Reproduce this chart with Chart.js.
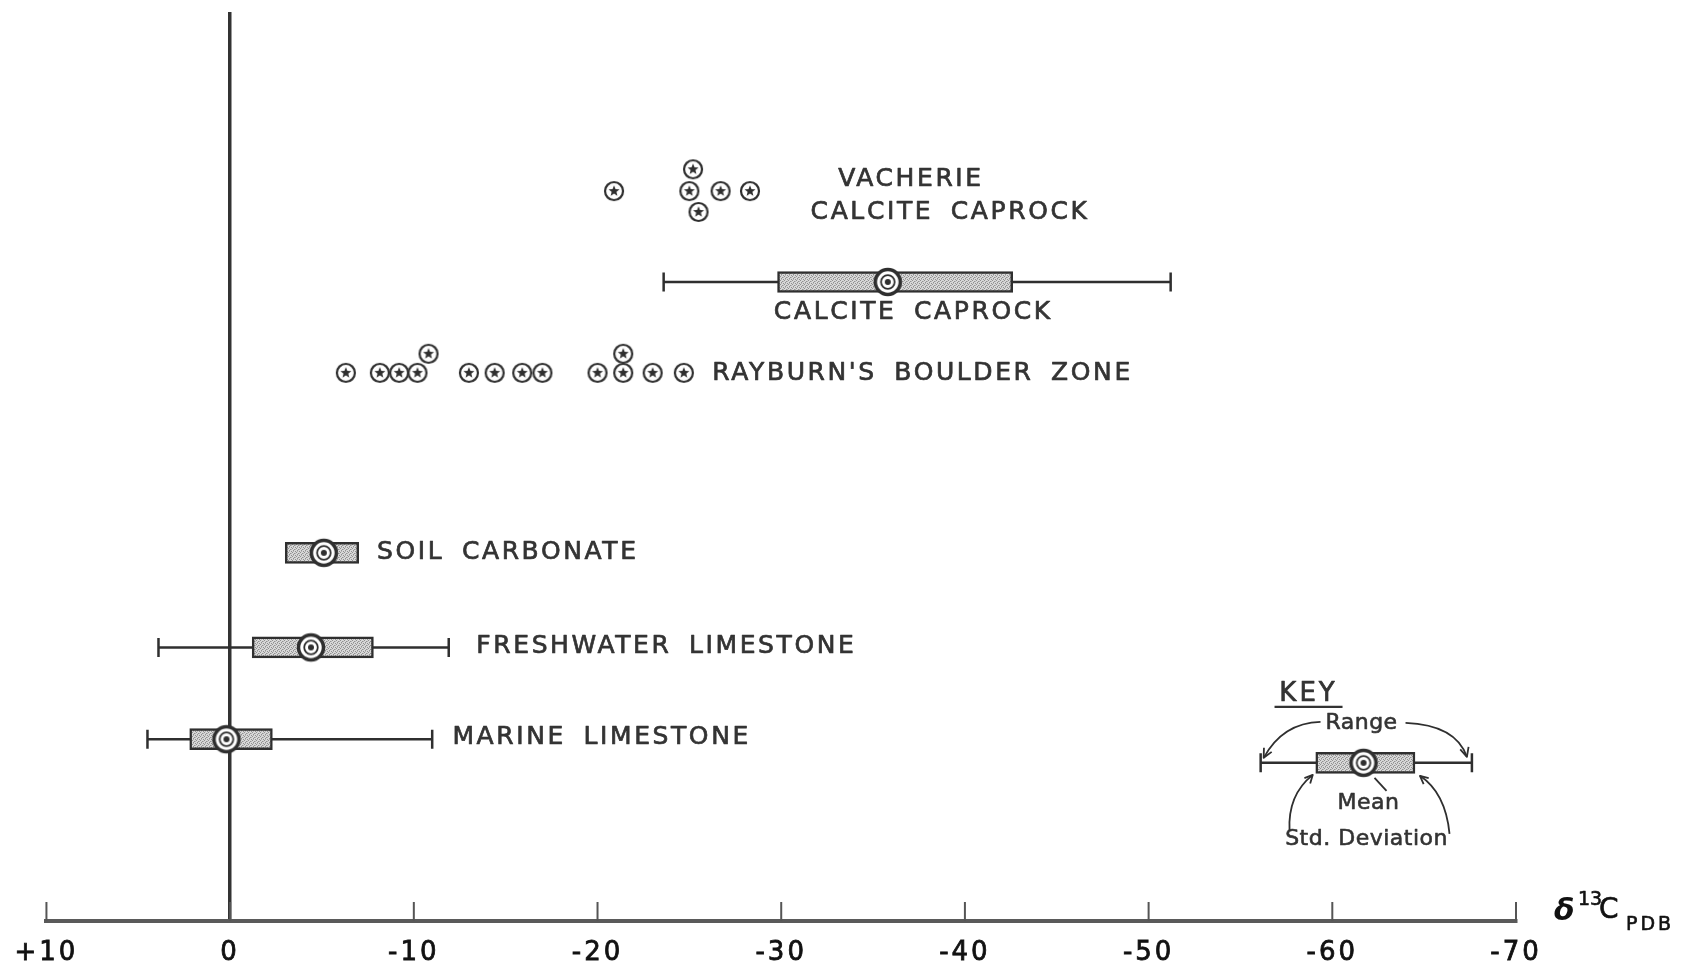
<!DOCTYPE html>
<html>
<head>
<meta charset="utf-8">
<script src="https://cdn.jsdelivr.net/npm/chart.js@4/dist/chart.umd.min.js"></script>
<style>
  html, body { margin: 0; padding: 0; background: #ffffff; }
  #wrap { width: 1688px; height: 970px; position: relative; }
</style>
</head>
<body>
<div id="wrap"><canvas id="chart" width="1688" height="970"></canvas></div>
<script>
// ---- δ13C axis ticks (‰ PDB) ----
const tickValues = [10, 0, -10, -20, -30, -40, -50, -60, -70];

// ---- Summary statistics of the carbonate groups ----
const groupNames   = ['MARINE LIMESTONE', 'FRESHWATER LIMESTONE', 'SOIL CARBONATE', 'CALCITE CAPROCK'];
const groupRow     = [20.0, 30.1, 40.5, 70.3];
const groupRangeLo = [4.5, 3.9, null, -23.6];
const groupRangeHi = [-11.0, -11.9, null, -51.2];
const groupSdLo    = [2.2, -1.2, -3.0, -29.8];
const groupSdHi    = [-2.3, -7.8, -7.0, -42.6];
const groupMean    = [0.2, -4.4, -5.1, -35.8];

// ---- Individual analyses: Rayburn's boulder zone ----
const rayburnValues = [-6.3, -8.15, -9.2, -10.2, -10.8, -13.0, -14.4, -15.9, -17.0, -20.0, -21.4, -21.4, -23.0, -24.7];
const rayburnRows   = [60.3, 60.3, 60.3, 60.3, 62.4, 60.3, 60.3, 60.3, 60.3, 60.3, 60.3, 62.4, 60.3, 60.3];

// ---- Individual analyses: Vacherie calcite caprock ----
const vacherieValues = [-20.9, -25.2, -25.0, -26.7, -28.3, -25.5];
const vacherieRows   = [80.3, 82.7, 80.3, 80.3, 80.3, 78.0];

// ---- Key example ----
const keyRow   = 17.4;
const keyRange = [-56.1, -67.6];
const keySd    = [-59.1, -64.5];
const keyMean  = -61.7;

// ---- Text labels (anchor value on the δ13C axis, row) ----
const labelTexts  = ['MARINE LIMESTONE', 'FRESHWATER LIMESTONE', 'SOIL CARBONATE', "RAYBURN'S BOULDER ZONE", 'CALCITE CAPROCK', 'VACHERIE', 'CALCITE CAPROCK'];
const labelValues = [-12.1, -13.4, -8.0, -26.25, -29.6, -33.1, -31.6];
const labelRows   = [20.2, 30.2, 40.5, 60.2, 66.9, 81.6, 77.9];

const INK = '#2f2f2f';
const TEXT = '#333333';
const FONT = '"DejaVu Sans", "Liberation Sans", sans-serif';

// stippled grey fill for the standard-deviation boxes
function makeStipple() {
  const c = document.createElement('canvas');
  c.width = 4; c.height = 4;
  const g = c.getContext('2d');
  g.fillStyle = '#d8d8d8';
  g.fillRect(0, 0, 4, 4);
  g.fillStyle = '#909090';
  g.fillRect(0, 0, 1, 1);
  g.fillRect(2, 1, 1, 1);
  g.fillRect(1, 2, 1, 1);
  g.fillRect(3, 3, 1, 1);
  g.fillStyle = '#b4b4b4';
  g.fillRect(3, 1, 1, 1);
  g.fillRect(1, 3, 1, 1);
  return g.createPattern(c, 'repeat');
}

// circled star marker for single analyses
function makeStarMarker() {
  const s = 24, c = document.createElement('canvas');
  c.width = s; c.height = s;
  const g = c.getContext('2d');
  g.beginPath();
  g.arc(s / 2, s / 2, 9, 0, Math.PI * 2);
  g.fillStyle = '#ffffff';
  g.fill();
  g.lineWidth = 2.2;
  g.strokeStyle = INK;
  g.stroke();
  g.beginPath();
  for (let k = 0; k < 10; k++) {
    const r = k % 2 === 0 ? 5.8 : 2.5;
    const a = -Math.PI / 2 + k * Math.PI / 5;
    const px = s / 2 + r * Math.cos(a), py = s / 2 + r * Math.sin(a);
    if (k === 0) g.moveTo(px, py); else g.lineTo(px, py);
  }
  g.closePath();
  g.fillStyle = INK;
  g.fill();
  return c;
}

// bull's-eye marker for group means
function makeMeanMarker() {
  const s = 36, c = document.createElement('canvas');
  c.width = s; c.height = s;
  const g = c.getContext('2d');
  g.beginPath();
  g.arc(s / 2, s / 2, 12.5, 0, Math.PI * 2);
  g.fillStyle = '#ffffff';
  g.fill();
  g.lineWidth = 3.5;
  g.strokeStyle = INK;
  g.stroke();
  g.beginPath();
  g.arc(s / 2, s / 2, 6.8, 0, Math.PI * 2);
  g.lineWidth = 1.8;
  g.stroke();
  g.beginPath();
  g.arc(s / 2, s / 2, 3, 0, Math.PI * 2);
  g.fillStyle = INK;
  g.fill();
  return c;
}

const stipple = makeStipple();
const starMarker = makeStarMarker();
const meanMarker = makeMeanMarker();

function rangeDataset(lo, hi, row) {
  return {
    type: 'line',
    data: [{ x: lo, y: row }, { x: hi, y: row }],
    borderColor: INK,
    borderWidth: 2.5,
    pointStyle: 'line',
    rotation: 90,
    pointRadius: 9.5,
    pointBorderWidth: 2.5,
    pointBorderColor: INK,
    pointBackgroundColor: INK,
    fill: false,
    order: 3
  };
}

const datasets = [];

// ranges (whiskers with end bars)
groupNames.forEach((name, i) => {
  if (groupRangeLo[i] !== null) datasets.push(rangeDataset(groupRangeLo[i], groupRangeHi[i], groupRow[i]));
});
datasets.push(rangeDataset(keyRange[0], keyRange[1], keyRow));

// standard-deviation boxes
datasets.push({
  type: 'bar',
  indexAxis: 'y',
  data: groupNames.map((n, i) => ({ x: [groupSdLo[i], groupSdHi[i]], y: groupRow[i] }))
    .concat([{ x: [keySd[0], keySd[1]], y: keyRow }]),
  backgroundColor: stipple,
  borderColor: INK,
  borderWidth: 2.5,
  borderSkipped: false,
  barThickness: 21,
  order: 2
});

// means
datasets.push({
  type: 'scatter',
  data: groupNames.map((n, i) => ({ x: groupMean[i], y: groupRow[i] })).concat([{ x: keyMean, y: keyRow }]),
  pointStyle: meanMarker,
  order: 1
});

// single analyses
datasets.push({
  type: 'scatter',
  data: rayburnValues.map((v, i) => ({ x: v, y: rayburnRows[i] })),
  pointStyle: starMarker,
  order: 1
});
datasets.push({
  type: 'scatter',
  data: vacherieValues.map((v, i) => ({ x: v, y: vacherieRows[i] })),
  pointStyle: starMarker,
  order: 1
});

// wider letter spacing for the axis numerals
const spacedLettering = {
  id: 'spacedLettering',
  beforeDraw(chart) { chart.ctx.letterSpacing = '3px'; },
  afterDraw(chart) { chart.ctx.letterSpacing = '0px'; }
};

// short tick marks standing up from the base line
const upTicks = {
  id: 'upTicks',
  afterDatasetsDraw(chart) {
    const xs = chart.scales.x, ctx = chart.ctx, bottom = chart.chartArea.bottom;
    ctx.save();
    ctx.strokeStyle = '#555';
    ctx.lineWidth = 2;
    xs.ticks.forEach((t, i) => {
      const px = xs.getPixelForTick(i);
      ctx.beginPath();
      ctx.moveTo(px, bottom);
      ctx.lineTo(px, bottom - 19);
      ctx.stroke();
    });
    ctx.restore();
  }
};

function arrowHead(ctx, fx, fy, tx, ty, size) {
  const a = Math.atan2(ty - fy, tx - fx);
  ctx.beginPath();
  ctx.moveTo(tx - size * Math.cos(a - 0.45), ty - size * Math.sin(a - 0.45));
  ctx.lineTo(tx, ty);
  ctx.lineTo(tx - size * Math.cos(a + 0.45), ty - size * Math.sin(a + 0.45));
  ctx.stroke();
}

// text drawn with a light outline so the lettering reads as a pen stroke
function inkText(ctx, text, x, y, weight) {
  ctx.lineWidth = weight;
  ctx.strokeText(text, x, y);
  ctx.fillText(text, x, y);
}

// group names, key annotations and axis title
const annotations = {
  id: 'annotations',
  afterDraw(chart) {
    const xs = chart.scales.x, ys = chart.scales.y, ctx = chart.ctx;
    ctx.save();
    ctx.fillStyle = TEXT;
    ctx.strokeStyle = TEXT;
    ctx.lineJoin = 'round';
    ctx.textBaseline = 'middle';
    ctx.textAlign = 'left';
    ctx.font = '25px ' + FONT;
    ctx.letterSpacing = '2.6px';
    ctx.wordSpacing = '7px';
    labelTexts.forEach((t, i) => {
      inkText(ctx, t, xs.getPixelForValue(labelValues[i]), ys.getPixelForValue(labelRows[i]), 0.7);
    });

    // key
    const mx = xs.getPixelForValue(keyMean);
    const ry = ys.getPixelForValue(keyRow);
    const lo = xs.getPixelForValue(keyRange[0]), hi = xs.getPixelForValue(keyRange[1]);
    const sLo = xs.getPixelForValue(keySd[0]), sHi = xs.getPixelForValue(keySd[1]);
    ctx.textAlign = 'center';
    ctx.wordSpacing = '0px';
    ctx.font = '26px ' + FONT;
    ctx.letterSpacing = '3px';
    inkText(ctx, 'KEY', mx - 55, ry - 69, 0.7);
    ctx.lineWidth = 2.2;
    ctx.beginPath();
    ctx.moveTo(mx - 89, ry - 56);
    ctx.lineTo(mx - 21, ry - 56);
    ctx.stroke();
    ctx.font = '22px ' + FONT;
    ctx.letterSpacing = '0.5px';
    inkText(ctx, 'Range', mx - 2, ry - 40, 0.6);
    inkText(ctx, 'Mean', mx + 5, ry + 40, 0.6);
    inkText(ctx, 'Std. Deviation', mx + 3, ry + 76, 0.6);

    ctx.lineWidth = 1.8;
    ctx.strokeStyle = INK;
    // range arrows
    ctx.beginPath();
    ctx.moveTo(mx - 43, ry - 41);
    ctx.quadraticCurveTo(lo + 22, ry - 40, lo + 3, ry - 5);
    ctx.stroke();
    arrowHead(ctx, lo + 16, ry - 30, lo + 3, ry - 5, 10);
    ctx.beginPath();
    ctx.moveTo(mx + 42, ry - 40);
    ctx.quadraticCurveTo(hi - 16, ry - 38, hi - 5, ry - 6);
    ctx.stroke();
    arrowHead(ctx, hi - 12, ry - 30, hi - 5, ry - 6, 10);
    // mean pointer
    ctx.beginPath();
    ctx.moveTo(mx + 23, ry + 28);
    ctx.lineTo(mx + 11, ry + 15);
    ctx.stroke();
    // std. deviation arrows
    ctx.beginPath();
    ctx.moveTo(mx - 74, ry + 68);
    ctx.quadraticCurveTo(mx - 76, ry + 32, sLo - 3, ry + 12);
    ctx.stroke();
    arrowHead(ctx, sLo - 14, ry + 24, sLo - 3, ry + 12, 9);
    ctx.beginPath();
    ctx.moveTo(mx + 86, ry + 71);
    ctx.quadraticCurveTo(mx + 82, ry + 30, sHi + 5, ry + 13);
    ctx.stroke();
    arrowHead(ctx, sHi + 18, ry + 24, sHi + 5, ry + 13, 9);

    // axis title δ13C(PDB)
    const tx = chart.chartArea.right + 38, ty = chart.chartArea.bottom;
    ctx.letterSpacing = '0px';
    ctx.textAlign = 'left';
    ctx.textBaseline = 'alphabetic';
    ctx.fillStyle = '#111111';
    ctx.strokeStyle = '#111111';
    ctx.font = 'italic bold 30px ' + FONT;
    ctx.fillText('δ', tx, ty - 1);
    ctx.font = '19px ' + FONT;
    inkText(ctx, '13', tx + 24, ty - 16, 0.6);
    ctx.font = '28px ' + FONT;
    inkText(ctx, 'C', tx + 45, ty - 3, 0.6);
    ctx.font = '19px ' + FONT;
    ctx.letterSpacing = '3px';
    inkText(ctx, 'PDB', tx + 72, ty + 9, 0.6);
    ctx.restore();
  }
};

new Chart(document.getElementById('chart'), {
  type: 'scatter',
  data: { datasets },
  options: {
    responsive: false,
    animation: false,
    events: [],
    layout: { padding: { left: 44, right: 172, top: 10, bottom: -15 } },
    plugins: { legend: { display: false }, tooltip: { enabled: false }, title: { display: false } },
    scales: {
      x: {
        type: 'linear',
        min: tickValues[tickValues.length - 1],
        max: tickValues[0],
        reverse: true,
        offset: false,
        afterBuildTicks: (scale) => { scale.ticks = tickValues.map(v => ({ value: v })); },
        ticks: {
          autoSkip: false,
          maxRotation: 0,
          padding: 19,
          color: '#111111',
          textStrokeColor: '#111111',
          textStrokeWidth: 0.8,
          font: { family: FONT, size: 26, lineHeight: 1.0 },
          callback: (v) => (v > 0 ? '+' + v : String(v))
        },
        grid: {
          drawTicks: false,
          color: (c) => (c.tick && c.tick.value === 0 ? '#333333' : 'rgba(0,0,0,0)'),
          lineWidth: 3.5
        },
        border: { display: true, color: '#5a5a5a', width: 4 }
      },
      y: {
        type: 'linear',
        min: 0,
        max: 100,
        offset: false,
        display: false
      }
    }
  },
  plugins: [spacedLettering, upTicks, annotations]
});
</script>
</body>
</html>
